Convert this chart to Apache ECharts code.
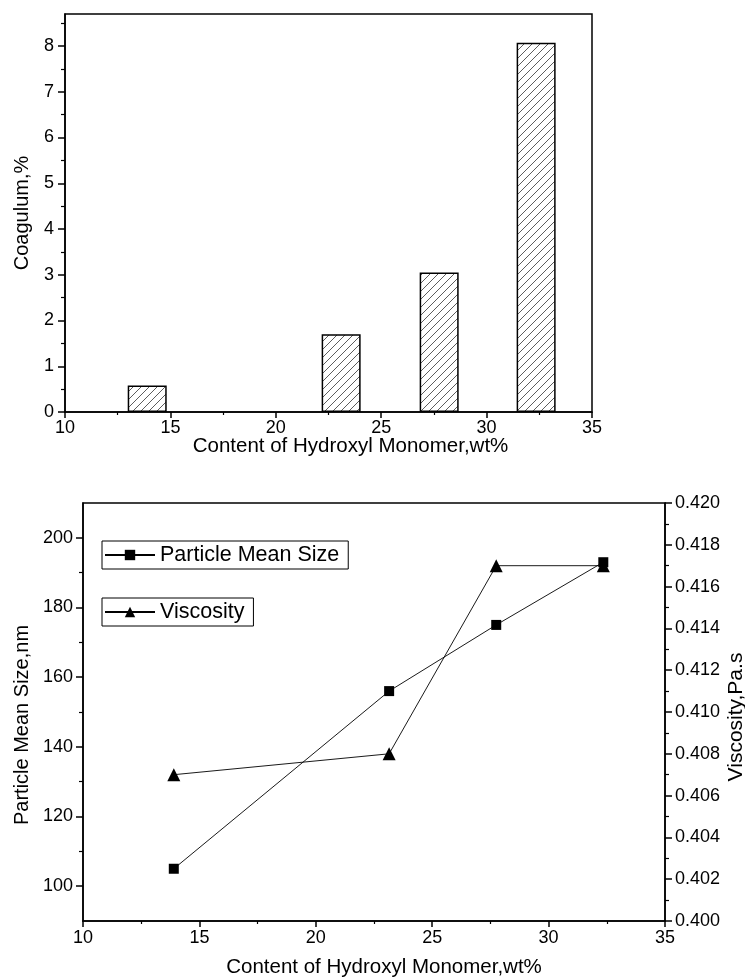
<!DOCTYPE html>
<html>
<head>
<meta charset="utf-8">
<script src="https://cdn.jsdelivr.net/npm/echarts@6/dist/echarts.min.js"></script>
<style>
  html, body { margin: 0; padding: 0; background: #fff; }
  #chart { width: 745px; height: 980px; }
</style>
</head>
<body>
<div id="chart"></div>
<script>
// Coagulum (%) against hydroxyl monomer content (wt%)
const coagX = [13.9, 23.1, 27.75, 32.35];
const coagulum = [0.58, 1.70, 3.05, 8.07];

// Particle mean size (nm) and viscosity (Pa.s) against the same content
const sizeX = [13.9, 23.15, 27.75, 32.35];
const meanSize = [105, 156, 175, 193];
const viscosity = [0.407, 0.408, 0.417, 0.417];

// Tick values
const contentMin = 10, contentMax = 35, contentStep = 5;
const coagTicks = [0, 1, 2, 3, 4, 5, 6, 7, 8];
const coagMinorTicks = [0.5, 1.5, 2.5, 3.5, 4.5, 5.5, 6.5, 7.5, 8.5];
const sizeTicks = [100, 120, 140, 160, 180, 200];
const sizeMinorTicks = [110, 130, 150, 170, 190];
const viscMin = 0.400, viscMax = 0.420, viscStep = 0.002;

const FONT = "'Liberation Sans', Arial, Helvetica, sans-serif";

// Diagonal hatch fill for the bars
function hatchPattern(size) {
  const c = document.createElement('canvas');
  c.width = size; c.height = size;
  const g = c.getContext('2d');
  g.fillStyle = '#fff';
  g.fillRect(0, 0, size, size);
  g.strokeStyle = '#333';
  g.lineWidth = 0.8;
  g.beginPath();
  g.moveTo(0, size); g.lineTo(size, 0);
  g.moveTo(-1, 1); g.lineTo(1, -1);
  g.moveTo(size - 1, size + 1); g.lineTo(size + 1, size - 1);
  g.stroke();
  return c;
}

const chart = echarts.init(document.getElementById('chart'), null, { renderer: 'canvas' });

const axisLineStyle = { color: '#000', width: 1.5 };
const majorTick = { color: '#000', width: 1.5 };
const minorTickStyle = { color: '#000', width: 1.2 };
const labelStyle = { color: '#000', fontSize: 18, fontFamily: FONT };
const nameFont = size => ({ color: '#000', fontSize: size, fontFamily: FONT });

const legendBase = {
  orient: 'horizontal',
  borderColor: '#000', borderWidth: 1,
  padding: [3, 9, 3, 2],
  itemWidth: 50, itemHeight: 13,
  textStyle: { color: '#000', fontSize: 21.5, fontFamily: FONT }
};

const option = {
  animation: false,
  backgroundColor: '#fff',
  textStyle: { fontFamily: FONT },
  grid: [
    { left: 65, right: 153, top: 14, bottom: 568, outerBoundsMode: 'none', containLabel: false,
      show: true, borderColor: '#000', borderWidth: 1.5 },
    { left: 83, right: 80, top: 503, bottom: 59, outerBoundsMode: 'none', containLabel: false,
      show: true, borderColor: '#000', borderWidth: 1.5 }
  ],
  legend: [
    Object.assign({ data: ['Particle Mean Size'], left: 102, top: 541 }, legendBase),
    Object.assign({ data: ['Viscosity'], left: 102, top: 598 }, legendBase)
  ],
  xAxis: [
    {
      gridIndex: 0, type: 'value',
      min: contentMin, max: contentMax, interval: contentStep,
      axisLine: { show: true, onZero: false, lineStyle: axisLineStyle },
      axisTick: { show: true, inside: false, length: 6, lineStyle: majorTick },
      minorTick: { show: true, splitNumber: 2, length: 3, lineStyle: minorTickStyle },
      splitLine: { show: false },
      axisLabel: Object.assign({ margin: 7 }, labelStyle),
      name: 'Content of Hydroxyl Monomer,wt%',
      nameLocation: 'middle', nameGap: 24, nameMoveOverlap: false,
      nameTextStyle: Object.assign({ padding: [0, 0, 0, 44] }, nameFont(20.5))
    },
    {
      gridIndex: 1, type: 'value',
      min: contentMin, max: contentMax, interval: contentStep,
      axisLine: { show: true, onZero: false, lineStyle: axisLineStyle },
      axisTick: { show: true, inside: false, length: 6, lineStyle: majorTick },
      minorTick: { show: true, splitNumber: 2, length: 3, lineStyle: minorTickStyle },
      splitLine: { show: false },
      axisLabel: Object.assign({ margin: 8 }, labelStyle),
      name: 'Content of Hydroxyl Monomer,wt%',
      nameLocation: 'middle', nameGap: 36, nameMoveOverlap: false,
      nameTextStyle: Object.assign({ padding: [0, 0, 0, 20] }, nameFont(20.5))
    }
  ],
  yAxis: [
    {
      gridIndex: 0, type: 'value', position: 'left',
      min: 0, max: 8.7,
      axisLine: { show: true, onZero: false, lineStyle: axisLineStyle },
      axisTick: { show: true, length: 7, customValues: coagTicks, lineStyle: majorTick },
      axisLabel: Object.assign({ margin: 11, customValues: coagTicks }, labelStyle),
      splitLine: { show: false },
      name: 'Coagulum,%',
      nameLocation: 'middle', nameGap: 33, nameMoveOverlap: false,
      nameTextStyle: nameFont(20)
    },
    {
      gridIndex: 0, type: 'value', position: 'left',
      min: 0, max: 8.7,
      axisLine: { show: false },
      axisTick: { show: true, length: 4, customValues: coagMinorTicks, lineStyle: minorTickStyle },
      axisLabel: { show: false },
      splitLine: { show: false }
    },
    {
      gridIndex: 1, type: 'value', position: 'left',
      min: 90, max: 210,
      axisLine: { show: true, onZero: false, lineStyle: axisLineStyle },
      axisTick: { show: true, length: 7, customValues: sizeTicks, lineStyle: majorTick },
      axisLabel: Object.assign({ margin: 10, customValues: sizeTicks }, labelStyle),
      splitLine: { show: false },
      name: 'Particle Mean Size,nm',
      nameLocation: 'middle', nameGap: 51, nameMoveOverlap: false,
      nameTextStyle: Object.assign({ padding: [0, 26, 0, 0] }, nameFont(20))
    },
    {
      gridIndex: 1, type: 'value', position: 'left',
      min: 90, max: 210,
      axisLine: { show: false },
      axisTick: { show: true, length: 4, customValues: sizeMinorTicks, lineStyle: minorTickStyle },
      axisLabel: { show: false },
      splitLine: { show: false }
    },
    {
      gridIndex: 1, type: 'value', position: 'right',
      min: viscMin, max: viscMax, interval: viscStep,
      axisLine: { show: true, onZero: false, lineStyle: axisLineStyle },
      axisTick: { show: true, length: 7, lineStyle: majorTick },
      minorTick: { show: true, splitNumber: 2, length: 4, lineStyle: minorTickStyle },
      axisLabel: Object.assign({ margin: 10, formatter: v => v.toFixed(3) }, labelStyle),
      splitLine: { show: false },
      name: 'Viscosity,Pa.s',
      nameLocation: 'middle', nameGap: 61, nameMoveOverlap: false,
      nameTextStyle: Object.assign({ padding: [0, 10, 0, 0] }, nameFont(21))
    }
  ],
  series: [
    {
      name: 'Coagulum',
      type: 'bar',
      xAxisIndex: 0, yAxisIndex: 0,
      barWidth: 39,
      data: coagX.map((x, i) => [x, coagulum[i]]),
      itemStyle: {
        color: { image: hatchPattern(8), repeat: 'repeat' },
        borderColor: '#000',
        borderWidth: 1.5
      }
    },
    {
      name: 'Particle Mean Size',
      type: 'line',
      xAxisIndex: 1, yAxisIndex: 2,
      symbol: 'rect', symbolSize: 10,
      data: sizeX.map((x, i) => [x, meanSize[i]]),
      lineStyle: { color: '#000', width: 0.9 },
      itemStyle: { color: '#000' }
    },
    {
      name: 'Viscosity',
      type: 'line',
      xAxisIndex: 1, yAxisIndex: 4,
      symbol: 'triangle', symbolSize: 13,
      data: sizeX.map((x, i) => [x, viscosity[i]]),
      lineStyle: { color: '#000', width: 0.9 },
      itemStyle: { color: '#000' }
    }
  ]
};

chart.setOption(option);
</script>
</body>
</html>
